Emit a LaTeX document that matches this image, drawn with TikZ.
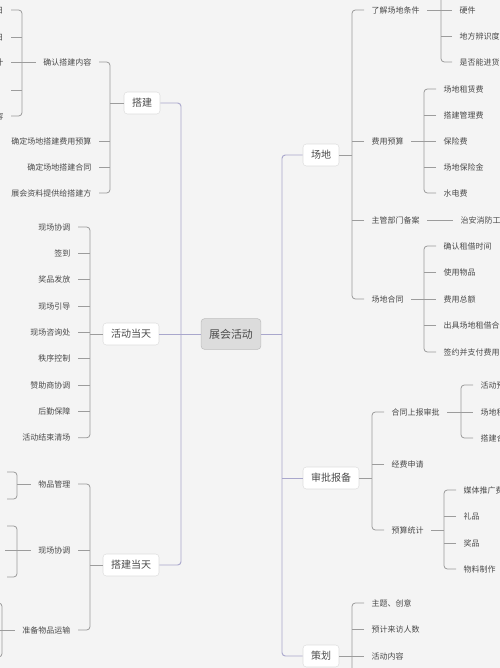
\documentclass[tikz,border=0pt]{standalone}
\usepackage{fontspec}
\newfontfamily\cjk{Noto Sans CJK SC}
\usepackage{xcolor}
\usepackage{tikz}
\usetikzlibrary{calc}
\definecolor{bgColor}{HTML}{F4F4F4}
\definecolor{mainLine}{HTML}{A9A7CC}
\definecolor{subLine}{HTML}{9C9C9C}
\definecolor{textColor}{HTML}{4A4A4A}
\definecolor{boxLine}{HTML}{DEDEDE}
\definecolor{rootFill}{HTML}{DCDCDC}
\definecolor{rootLine}{HTML}{BDBDBD}

\begin{document}
\begin{tikzpicture}[x=0.75pt, y=-0.75pt,
    topic/.style={draw=boxLine, fill=white, rounded corners=2.5pt, text=textColor,
        font=\cjk\fontsize{7.5}{9}\selectfont, inner xsep=6pt, inner ysep=0pt, minimum height=16.5pt},
    central/.style={topic, draw=rootLine, fill=rootFill, font=\cjk\fontsize{8.2}{10}\selectfont, minimum height=23pt},
    leafl/.style={anchor=east, text=textColor, font=\cjk\fontsize{6}{7}\selectfont, inner xsep=5.5pt, inner ysep=1pt},
    leafr/.style={leafl, anchor=west},
    mainline/.style={draw=mainLine, line width=0.7pt},
    subline/.style={draw=subLine, line width=0.6pt},
    brk/.style={rounded corners=2.5pt}]
    \useasboundingbox (0,0) rectangle (500,668);
    \clip (0,0) rectangle (500,668);
    \fill[bgColor] (0,0) rectangle (500,668);

    % main topics
    \node[central] (expo) at (231,334) {展会活动};
    \node[topic] (dajian) at (142,103) {搭建};
    \node[topic] (huodong) at (131,334) {活动当天};
    \node[topic] (djday) at (131,565) {搭建当天};
    \node[topic] (venue) at (321,155) {场地};
    \node[topic] (approve) at (331,478) {审批报备};
    \node[topic] (plan) at (321,656) {策划};

    \coordinate (lspine) at (181,334);
    \coordinate (rspine) at (282,334);
    \draw[mainline] (expo.west) -- (huodong.east);
    \draw[mainline, brk] (dajian.east) -| (lspine |- djday.east) -- (djday.east);
    \draw[mainline] (expo.east) -- (rspine);
    \draw[mainline, brk] (venue.west) -| (rspine |- plan.west) -- (plan.west);
    \draw[mainline] (approve.west) -- (approve.west -| rspine);

    % ---- left side ----
    % 搭建
    \foreach \t/\y [count=\i] in {确认搭建内容/62, 确定场地搭建费用预算/141, 确定场地搭建合同/167, 展会资料提供给搭建方/193}
        \node[leafl] (dj\i) at (99,\y) {\t};
    \coordinate (djb) at (110,0);
    \draw[subline, brk] (dj1.east) -| (djb |- dj4.east) -- (dj4.east);
    \foreach \i in {2,3}
        \draw[subline] (dj\i.east) -- (dj\i.east -| djb);
    \draw[subline] (dajian.west) -- (dajian.west -| djb);

    \foreach \t/\y [count=\i] in {布展日/10, 撤展日/37, 展台设计/62, {}/90, 展示内容/116}
        \node[leafl] (qr\i) at (11,\y) {\t};
    \coordinate (qrb) at (22,0);
    \draw[subline, brk] (qr1.east) -| (qrb |- qr5.east) -- (qr5.east);
    \foreach \i in {2,3,4}
        \draw[subline] (qr\i.east) -- (qr\i.east -| qrb);
    \draw[subline] (dj1.west) -- (dj1.west -| qrb);

    % 活动当天
    \foreach \t [count=\i] in {现场协调, 签到, 奖品发放, 现场引导, 现场咨询处, 秩序控制, 赞助商协调, 后勤保障, 活动结束清场}
        \node[leafl] (hd\i) at (78,{227+26.35*(\i-1)}) {\t};
    \coordinate (hdb) at (90,0);
    \draw[subline, brk] (hd1.east) -| (hdb |- hd9.east) -- (hd9.east);
    \foreach \i in {2,...,8}
        \draw[subline] (hd\i.east) -- (hd\i.east -| hdb);
    \draw[subline] (huodong.west) -- (huodong.west -| hdb);

    % 搭建当天
    \foreach \t/\y [count=\i] in {物品管理/484, 现场协调/550, 准备物品运输/630}
        \node[leafl] (dd\i) at (78,\y) {\t};
    \coordinate (ddb) at (90,0);
    \draw[subline, brk] (dd1.east) -| (ddb |- dd3.east) -- (dd3.east);
    \draw[subline] (dd2.east) -- (dd2.east -| ddb);
    \draw[subline] (djday.west) -- (djday.west -| ddb);

    \coordinate (wp1) at (7,472);
    \coordinate (wp2) at (7,499);
    \coordinate (wpb) at (17,0);
    \draw[subline, brk] (wp1) -| (wpb |- wp2) -- (wp2);
    \draw[subline] (dd1.west) -- (dd1.west -| wpb);

    \coordinate (xc1) at (7,526);
    \coordinate (xc2) at (5,550);
    \coordinate (xc3) at (7,577);
    \coordinate (xcb) at (17,0);
    \draw[subline, brk] (xc1) -| (xcb |- xc3) -- (xc3);
    \draw[subline] (dd2.west) -- (xc2);

    \coordinate (ys1) at (-10,603);
    \coordinate (ys2) at (-10,630);
    \coordinate (ys3) at (-10,657);
    \coordinate (ysb) at (2,0);
    \draw[subline, brk] (ys1) -| (ysb |- ys3) -- (ys3);
    \draw[subline] (dd3.west) -- (ys2);

    % ---- right side ----
    % 场地
    \foreach \t/\y [count=\i] in {了解场地条件/10, 费用预算/141, 主管部门备案/220, 场地合同/299}
        \node[leafr] (vn\i) at (364,\y) {\t};
    \coordinate (vnb) at (352,0);
    \draw[subline, brk] (vn1.west) -| (vnb |- vn4.west) -- (vn4.west);
    \foreach \i in {2,3}
        \draw[subline] (vn\i.west) -- (vn\i.west -| vnb);
    \draw[subline] (venue.east) -- (venue.east -| vnb);

    \foreach \t/\y [count=\i] in {硬件/10, 地方辨识度/36, 是否能进货车/62}
        \node[leafr] (hw\i) at (452,\y) {\t};
    \coordinate (hwb) at (441,-20);
    \draw[subline, brk] (hw3.west) -| (hwb);
    \draw[subline] (hw2.west) -- (hw2.west -| hwb);
    \draw[subline] (vn1.east) -- (hw1.west);

    \foreach \t/\y [count=\i] in {场地租赁费/89, 搭建管理费/115, 保险费/141, 场地保险金/167, 水电费/193}
        \node[leafr] (fy\i) at (436,\y) {\t};
    \coordinate (fyb) at (424,0);
    \draw[subline, brk] (fy1.west) -| (fyb |- fy5.west) -- (fy5.west);
    \foreach \i in {2,4}
        \draw[subline] (fy\i.west) -- (fy\i.west -| fyb);
    \draw[subline] (vn2.east) -- (fy3.west);

    \node[leafr] (za) at (453,220) {治安消防工作};
    \draw[subline] (vn3.east) -- (za.west);

    \foreach \t/\y [count=\i] in {确认租借时间/246, 使用物品/272, 费用总额/299, 出具场地租借合同/325, 签约并支付费用/352}
        \node[leafr] (ht\i) at (436,\y) {\t};
    \coordinate (htb) at (424,0);
    \draw[subline, brk] (ht1.west) -| (htb |- ht5.west) -- (ht5.west);
    \foreach \i in {2,4}
        \draw[subline] (ht\i.west) -- (ht\i.west -| htb);
    \draw[subline] (vn4.east) -- (ht3.west);

    % 审批报备
    \foreach \t/\y [count=\i] in {合同上报审批/412, 经费申请/464, 预算统计/530}
        \node[leafr] (sp\i) at (384,\y) {\t};
    \coordinate (spb) at (372,0);
    \draw[subline, brk] (sp1.west) -| (spb |- sp3.west) -- (sp3.west);
    \draw[subline] (sp2.west) -- (sp2.west -| spb);
    \draw[subline] (approve.east) -- (approve.east -| spb);

    \foreach \t/\y [count=\i] in {活动预算/385, 场地租赁/412, 搭建合同/438}
        \node[leafr] (sb\i) at (473,\y) {\t};
    \coordinate (sbb) at (461,0);
    \draw[subline, brk] (sb1.west) -| (sbb |- sb3.west) -- (sb3.west);
    \draw[subline] (sp1.east) -- (sb2.west);

    \foreach \t/\y [count=\i] in {媒体推广费/490, 礼品/516, 奖品/543, 物料制作/569}
        \node[leafr] (ys\i) at (456,\y) {\t};
    \coordinate (ytb) at (444,0);
    \draw[subline, brk] (ys1.west) -| (ytb |- ys4.west) -- (ys4.west);
    \foreach \i in {2,3}
        \draw[subline] (ys\i.west) -- (ys\i.west -| ytb);
    \draw[subline] (sp3.east) -- (sp3.east -| ytb);

    % 策划
    \foreach \t/\y [count=\i] in {主题、创意/603, 预计来访人数/629, 活动内容/656}
        \node[leafr] (ch\i) at (364,\y) {\t};
    \coordinate (chb) at (352,690);
    \draw[subline, brk] (ch1.west) -| (chb);
    \draw[subline] (ch2.west) -- (ch2.west -| chb);
    \draw[subline] (plan.east) -- (ch3.west);
\end{tikzpicture}
\end{document}
